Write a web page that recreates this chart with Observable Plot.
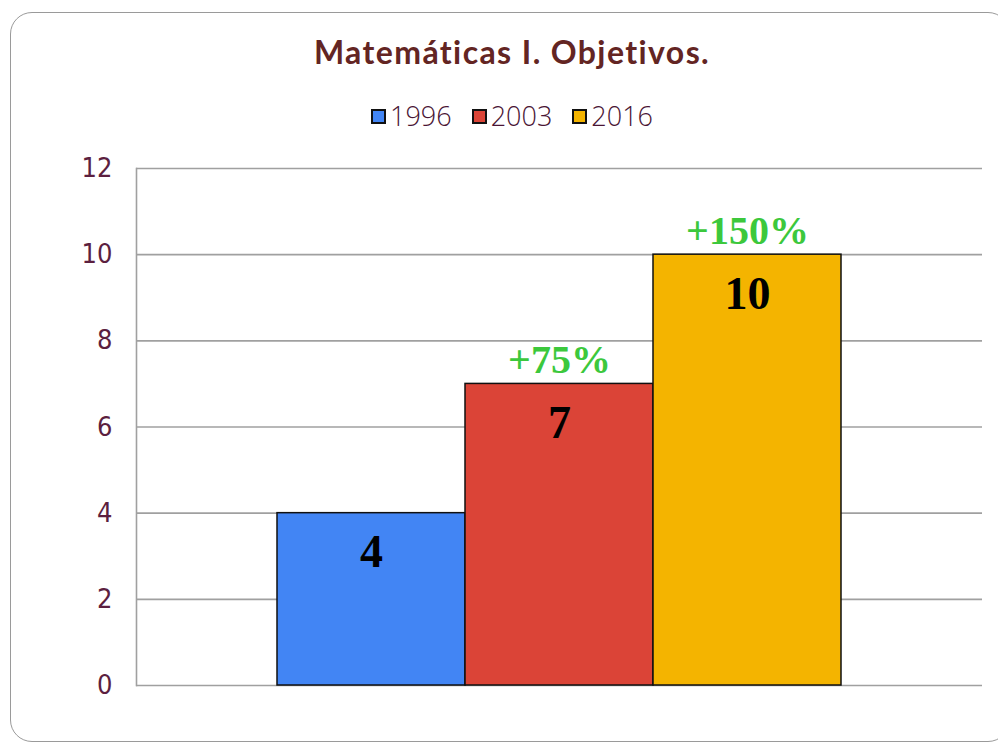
<!DOCTYPE html>
<html>
<head>
<meta charset="utf-8">
<script src="https://cdn.jsdelivr.net/npm/d3@7"></script>
<script src="https://cdn.jsdelivr.net/npm/@observablehq/plot@0.6"></script>
<style>
  html, body { margin: 0; padding: 0; background: #fff; width: 998px; height: 744px; overflow: hidden; }
  #frame { position: absolute; left: 10px; top: 12px; width: 1000px; height: 730px; border: 1.5px solid #9a9a9a; border-radius: 22px; box-sizing: border-box; }
  #title { position: absolute; left: 10px; width: 1004px; top: 34px; text-align: center; font-family: "Lato", sans-serif; font-weight: 700; font-size: 32px; line-height: 36px; color: #632523; letter-spacing: 1.4px; }
  #legend { position: absolute; left: 10px; width: 1004px; top: 100px; display: flex; justify-content: center; align-items: center; gap: 20px; font-family: "Open Sans", sans-serif; font-weight: 300; font-size: 27px; line-height: 32px; color: #4a1535; }
  .item { display: flex; align-items: center; gap: 4px; }
  .sw { width: 11px; height: 11px; border: 2px solid #111; display: inline-block; }
  #chart { position: absolute; left: 0; top: 140px; }
</style>
</head>
<body>
<div id="frame"></div>
<div id="title">Matemáticas I. Objetivos.</div>
<div id="legend"></div>
<div id="chart"></div>
<script>
const years = ["1996", "2003", "2016"];
const values = [4, 7, 10];
const growth = ["", "+75%", "+150%"];
const colors = ["#4285f4", "#db4437", "#f4b400"];
const yTicks = [0, 2, 4, 6, 8, 10, 12];

const data = years.map((y, i) => ({ year: y, value: values[i], growth: growth[i] }));

const legend = document.getElementById("legend");
years.forEach((y, i) => {
  const item = document.createElement("div");
  item.className = "item";
  const sw = document.createElement("span");
  sw.className = "sw";
  sw.style.background = colors[i];
  const t = document.createElement("span");
  t.textContent = y;
  item.appendChild(sw);
  item.appendChild(t);
  legend.appendChild(item);
});

const chart = Plot.plot({
  width: 998,
  height: 600,
  marginLeft: 136,
  marginRight: 16,
  marginTop: 28,
  marginBottom: 55,
  style: { fontFamily: "'DejaVu Sans Condensed', 'DejaVu Sans', sans-serif", background: "transparent" },
  x: { domain: years, paddingInner: 0, paddingOuter: 0.75, axis: null },
  y: { domain: [0, 12] },
  color: { domain: years, range: colors },
  marks: [
    Plot.ruleY(yTicks, { stroke: "#a0a0a0", strokeWidth: 1.6 }),
    Plot.frame({ anchor: "left", stroke: "#a0a0a0", strokeWidth: 1.6 }),
    Plot.axisY(yTicks, { tickSize: 0, tickPadding: 24, fill: "#5c1f3f", fontSize: 27, label: null }),
    Plot.barY(data, { x: "year", y: "value", fill: "year", stroke: "#111", strokeWidth: 1.5 }),
    Plot.text(data, { x: "year", y: "value", text: d => String(d.value), lineAnchor: "bottom", dy: 54, fontSize: 46, fontWeight: "bold", fontFamily: "'Liberation Serif', serif", fill: "#000" }),
    Plot.text(data, { x: "year", y: "value", text: "growth", lineAnchor: "bottom", dy: -11, fontSize: 40, fontWeight: "bold", fontFamily: "'Liberation Serif', serif", fill: "#3cc83c" })
  ]
});
document.getElementById("chart").appendChild(chart);
</script>
</body>
</html>
